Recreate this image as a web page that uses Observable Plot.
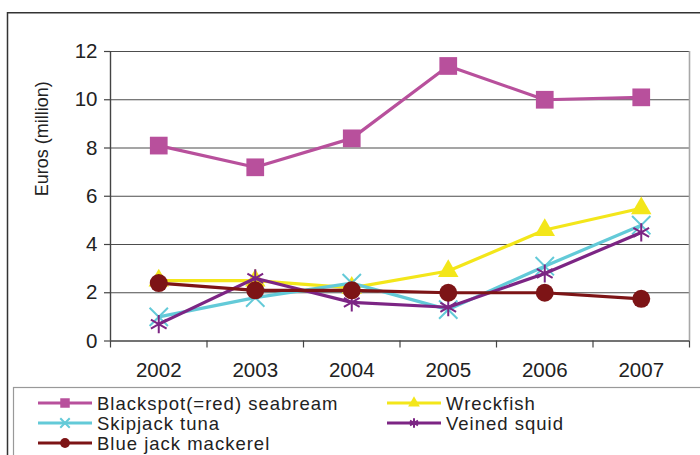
<!DOCTYPE html>
<html>
<head>
<meta charset="utf-8">
<script src="https://cdn.jsdelivr.net/npm/d3@7"></script>
<script src="https://cdn.jsdelivr.net/npm/@observablehq/plot@0.6"></script>
<style>
  html, body { margin: 0; padding: 0; background: #fff; }
  #wrap { position: relative; width: 700px; height: 455px; overflow: hidden; font-family: "Liberation Sans", Arial, sans-serif; }
  #wrap > svg { position: absolute; left: 0; top: 0; }
</style>
</head>
<body>
<div id="wrap"></div>
<script>
// ---- data ----
const years = [2002, 2003, 2004, 2005, 2006, 2007];
const blackspot = [8.1, 7.2, 8.4, 11.4, 10.0, 10.1];
const wreckfish = [2.5, 2.5, 2.2, 2.9, 4.6, 5.5];
const skipjack  = [1.0, 1.8, 2.4, 1.3, 3.1, 4.8];
const veined    = [0.7, 2.6, 1.6, 1.4, 2.8, 4.5];
const mackerel  = [2.4, 2.1, 2.1, 2.0, 2.0, 1.75];
const yTicks = [0, 2, 4, 6, 8, 10, 12];
const seriesNames = ["Blackspot(=red) seabream", "Wreckfish", "Skipjack tuna", "Veined squid", "Blue jack mackerel"];
const seriesValues = [blackspot, wreckfish, skipjack, veined, mackerel];
const seriesColors = ["#B8509C", "#F3E61A", "#63CAD8", "#7C2584", "#7D1416"];
const seriesSymbols = ["square", "triangle", "times", "asterisk", "circle"];
const seriesFilled = [true, true, false, false, true];
const seriesR = [10, 7.6, 8.4, 8.6, 9];

const bounds = years.map(y => y - 0.5).concat([years[years.length - 1] + 0.5]);
const font = "'Liberation Sans', Arial, sans-serif";

const seriesMarks = seriesNames.flatMap((name, i) => {
  const rows = years.map((yr, j) => ({year: yr, value: seriesValues[i][j], series: name}));
  const dotOpts = seriesFilled[i]
    ? {x: "year", y: "value", symbol: () => seriesSymbols[i], r: seriesR[i], fill: seriesColors[i], stroke: "none"}
    : {x: "year", y: "value", symbol: () => seriesSymbols[i], r: seriesR[i], fill: "none", stroke: seriesColors[i], strokeWidth: 2};
  return [
    Plot.line(rows, {x: "year", y: "value", stroke: seriesColors[i], strokeWidth: 3.2}),
    Plot.dot(rows, {...dotOpts, symbol: seriesSymbols[i]})
  ];
});

const chart = Plot.plot({
  width: 700,
  height: 455,
  marginLeft: 110,
  marginRight: 11,
  marginTop: 51,
  marginBottom: 114.5,
  style: {fontFamily: font, fontSize: "20.5px", color: "#222", background: "transparent", overflow: "visible"},
  x: {type: "linear", domain: [bounds[0], bounds[bounds.length - 1]], label: null},
  y: {domain: [0, 12], label: null},
  marks: [
    Plot.ruleY(yTicks.filter(d => d > 0), {stroke: "#4d4d4d", strokeWidth: 1.2}),
    Plot.ruleX([bounds[bounds.length - 1]], {y1: 0, y2: 12, stroke: "#a8a8a8", strokeWidth: 1.6}),
    Plot.ruleX([bounds[0]], {y1: 0, y2: 12, stroke: "#444", strokeWidth: 1.4}),
    Plot.ruleY([0], {stroke: "#444", strokeWidth: 1.4}),
    Plot.axisX({ticks: bounds, tickSize: 7, tickFormat: () => "", stroke: "#444", strokeWidth: 1.2, label: null}),
    Plot.axisX({ticks: years, tickSize: 0, tickPadding: 21, tickFormat: d => String(d), label: null}),
    Plot.axisY({ticks: yTicks, tickSize: 6, tickPadding: 7, stroke: "#444", strokeWidth: 1.2, label: null}),
    Plot.text(["Euros (million)"], {frameAnchor: "left", rotate: -90, dx: -68, fontSize: 18, fill: "#222"}),
    ...seriesMarks
  ]
});
document.getElementById("wrap").appendChild(chart);

// ---- frame and legend overlay ----
const W = 700, H = 455;
const svg = d3.select("#wrap").append("svg").attr("width", W).attr("height", H);
svg.append("path").attr("d", "M7.5,455V12.75H700").attr("fill", "none").attr("stroke", "#333").attr("stroke-width", 1.5);
svg.append("rect").attr("x", 13.5).attr("y", 387.5).attr("width", 720).attr("height", 100)
  .attr("fill", "none").attr("stroke", "#999").attr("stroke-width", 1.2);

const legendPos = [
  {x: 38, y: 403}, {x: 387, y: 403},
  {x: 38, y: 423}, {x: 387, y: 423},
  {x: 38, y: 443}
];
const legendSizes = [90, 60, 60, 60, 75];
const symMap = {square: d3.symbolSquare, triangle: d3.symbolTriangle, times: d3.symbolTimes, asterisk: d3.symbolAsterisk, circle: d3.symbolCircle};
seriesNames.forEach((name, i) => {
  const p = legendPos[i];
  const g = svg.append("g").attr("transform", `translate(${p.x},${p.y})`);
  g.append("line").attr("x1", 0).attr("x2", 54).attr("y1", 0).attr("y2", 0)
    .attr("stroke", seriesColors[i]).attr("stroke-width", 3.2);
  const path = g.append("path").attr("transform", "translate(27,0)")
    .attr("d", d3.symbol(symMap[seriesSymbols[i]], legendSizes[i])());
  if (seriesFilled[i]) path.attr("fill", seriesColors[i]);
  else path.attr("fill", "none").attr("stroke", seriesColors[i]).attr("stroke-width", 2);
  g.append("text").attr("x", 59).attr("y", 0).attr("dy", "0.36em")
    .attr("font-family", font).attr("font-size", 18.5).attr("letter-spacing", "1px")
    .attr("fill", "#222").text(name);
});
</script>
</body>
</html>
